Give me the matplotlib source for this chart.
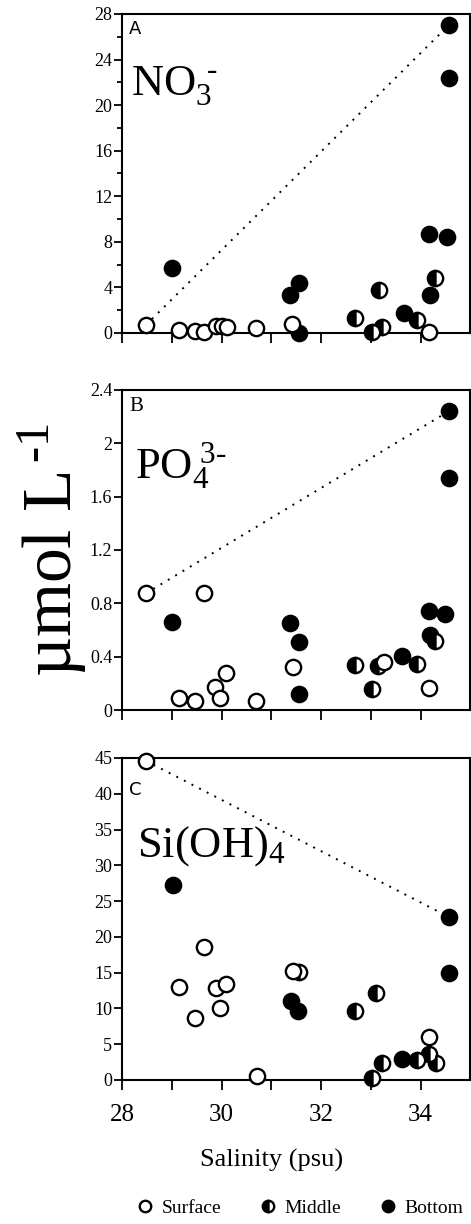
import matplotlib
matplotlib.use("Agg")
import matplotlib.pyplot as plt
from matplotlib.ticker import FixedLocator, FixedFormatter

plt.rcParams['font.family'] = ['Liberation Serif', 'DejaVu Serif']
plt.rcParams['mathtext.fontset'] = 'custom'
plt.rcParams['mathtext.rm'] = 'Liberation Serif'
plt.rcParams['mathtext.it'] = 'Liberation Serif:italic'

# ---------------- data ----------------
# Panel A: nitrate (umol/L) vs salinity (psu)
A_surf_x = [28.48, 29.15, 29.46, 29.64, 29.88, 30.01, 30.11, 30.69, 31.41, 34.16]
A_surf_y = [0.7, 0.3, 0.2, 0.1, 0.6, 0.6, 0.5, 0.4, 0.8, 0.1]
A_mid_x = [32.69, 33.16, 33.03, 33.23, 33.92, 34.29]
A_mid_y = [1.3, 3.8, 0.1, 0.55, 1.1, 4.8]
A_bot_x = [29.01, 31.38, 31.56, 31.56, 33.66, 34.16, 34.19, 34.53, 34.56, 34.57]
A_bot_y = [5.7, 3.3, 4.4, 0.0, 1.75, 8.7, 3.3, 8.4, 27.0, 22.4]

# Panel B: phosphate
B_surf_x = [28.48, 29.15, 29.46, 29.64, 29.86, 29.96, 30.08, 30.69, 31.44, 33.26, 34.16]
B_surf_y = [0.875, 0.09, 0.07, 0.88, 0.175, 0.09, 0.28, 0.07, 0.32, 0.36, 0.165]
B_mid_x = [32.69, 33.03, 33.15, 33.92, 34.28]
B_mid_y = [0.335, 0.16, 0.33, 0.345, 0.52]
B_bot_x = [29.01, 31.38, 31.56, 31.56, 33.63, 34.16, 34.19, 34.49, 34.56, 34.57]
B_bot_y = [0.66, 0.65, 0.51, 0.12, 0.405, 0.74, 0.56, 0.72, 2.24, 1.74]

# Panel C: silicate
C_surf_x = [28.49, 29.15, 29.46, 29.64, 29.88, 30.09, 29.97, 30.71, 31.44, 34.16]
C_surf_y = [44.6, 13.0, 8.6, 18.6, 12.9, 13.4, 10.1, 0.5, 15.3, 6.0]
C_mid_x = [31.56, 32.69, 33.10, 33.02, 33.22, 33.93, 34.16, 34.30]
C_mid_y = [15.1, 9.7, 12.1, 0.3, 2.4, 2.8, 3.7, 2.4]
C_bot_x = [29.02, 31.39, 31.54, 33.63, 34.56, 34.56]
C_bot_y = [27.2, 11.0, 9.6, 2.9, 22.8, 15.0]

# conservative mixing lines (end-members)
mix_x = [28.48, 34.56]
mixA_y = [0.7, 27.0]
mixB_y = [0.875, 2.24]
mixC_y = [44.6, 22.8]

x_major = [28, 30, 32, 34]
x_minor = [29, 31, 33]
x_labels = ['28', '30', '32', '34']

A_yticks = [0, 4, 8, 12, 16, 20, 24, 28]
A_ylabels = ['0', '4', '8', '12', '16', '20', '24', '28']
A_yminor = [2, 6, 10, 14, 18, 22, 26]
B_yticks = [0, 0.4, 0.8, 1.2, 1.6, 2.0, 2.4]
B_ylabels = ['0', '0.4', '0.8', '1.2', '1.6', '2', '2.4']
C_yticks = [0, 5, 10, 15, 20, 25, 30, 35, 40, 45]
C_ylabels = ['0', '5', '10', '15', '20', '25', '30', '35', '40', '45']

# ---------------- figure ----------------
W, H = 471, 1224
fig = plt.figure(figsize=(W / 100, H / 100), dpi=100)

def fx(px):
    return px / W

def fy(py):
    return 1 - py / H

left, right = 122, 470.5
panels = [
    (14, 333), (390, 710), (758, 1080)
]

ms = 11
mew = 1.7

def make_ax(top, bottom):
    ax = fig.add_axes([fx(left), fy(bottom), fx(right - left), fy(top) - fy(bottom)])
    for s in ax.spines.values():
        s.set_linewidth(1.5)
    ax.set_xlim(28, 35)
    ax.xaxis.set_major_locator(FixedLocator(x_major))
    ax.xaxis.set_minor_locator(FixedLocator(x_minor))
    ax.tick_params(axis='both', which='both', direction='out', width=1.3,
                   top=False, right=False)
    ax.tick_params(axis='x', which='both', length=7)
    ax.tick_params(axis='y', which='major', length=6, labelsize=13, pad=1)
    ax.tick_params(axis='y', which='minor', length=3.5)
    return ax

def draw(ax, sx, sy, mx, my, bx, by, lx, ly):
    ax.plot(lx, ly, color='black', linestyle=(0, (1, 3.4)), lw=1.4, zorder=1)
    hb, = ax.plot(bx, by, 'o', ms=ms, color='black', mec='black', mew=mew,
                  clip_on=False, zorder=3, label='Bottom')
    hm, = ax.plot(mx, my, 'o', ms=ms, fillstyle='left', color='black',
                  markerfacecoloralt='white', mec='black', mew=mew,
                  clip_on=False, zorder=4, label='Middle')
    hs, = ax.plot(sx, sy, 'o', ms=ms, mfc='white', mec='black', mew=mew,
                  clip_on=False, zorder=5, label='Surface')
    return hs, hm, hb

# Panel A
axA = make_ax(*panels[0])
axA.set_ylim(0, 28)
axA.yaxis.set_major_locator(FixedLocator(A_yticks))
axA.yaxis.set_major_formatter(FixedFormatter(A_ylabels))
axA.yaxis.set_minor_locator(FixedLocator(A_yminor))
axA.set_xticklabels([])
draw(axA, A_surf_x, A_surf_y, A_mid_x, A_mid_y, A_bot_x, A_bot_y, mix_x, mixA_y)
fig.text(fx(129), fy(34), 'A', family='DejaVu Sans', fontsize=13, ha='left', va='baseline')
fig.text(fx(131), fy(95), r'NO$_3^{\,\,\,\text{-}}$', fontsize=32, ha='left', va='baseline')

# Panel B
axB = make_ax(*panels[1])
axB.set_ylim(0, 2.4)
axB.yaxis.set_major_locator(FixedLocator(B_yticks))
axB.yaxis.set_major_formatter(FixedFormatter(B_ylabels))
axB.set_xticklabels([])
draw(axB, B_surf_x, B_surf_y, B_mid_x, B_mid_y, B_bot_x, B_bot_y, mix_x, mixB_y)
fig.text(fx(129), fy(411), 'B', fontsize=15, ha='left', va='baseline')
fig.text(fx(135), fy(479), r'PO$_4^{\,\,3\text{-}}$', fontsize=32, ha='left', va='baseline')

# Panel C
axC = make_ax(*panels[2])
axC.set_ylim(0, 45)
axC.yaxis.set_major_locator(FixedLocator(C_yticks))
axC.yaxis.set_major_formatter(FixedFormatter(C_ylabels))
axC.xaxis.set_major_formatter(FixedFormatter(x_labels))
axC.tick_params(axis='x', which='major', labelsize=18, pad=10)
hs, hm, hb = draw(axC, C_surf_x, C_surf_y, C_mid_x, C_mid_y, C_bot_x, C_bot_y, mix_x, mixC_y)
fig.text(fx(129), fy(795), 'C', family='DejaVu Sans', fontsize=13, ha='left', va='baseline')
fig.text(fx(137), fy(857), r'Si(OH)$_4$', fontsize=32, ha='left', va='baseline')

fig.text(fx(272), fy(1160), 'Salinity (psu)', fontsize=19, ha='center', va='center')

# y-axis label
fig.text(fx(52), fy(550), r'µmol L$^{\,\text{-}1}$', fontsize=50, rotation=90,
         ha='center', va='center')

# legend
leg = fig.legend(handles=[hs, hm, hb], labels=['Surface', 'Middle', 'Bottom'],
                 loc='center', bbox_to_anchor=(fx(300), fy(1208)), ncol=3,
                 frameon=False, fontsize=14, markerscale=0.75,
                 handlelength=0.8, handletextpad=0.45, columnspacing=2.0)

fig.savefig('out.png', dpi=100)
